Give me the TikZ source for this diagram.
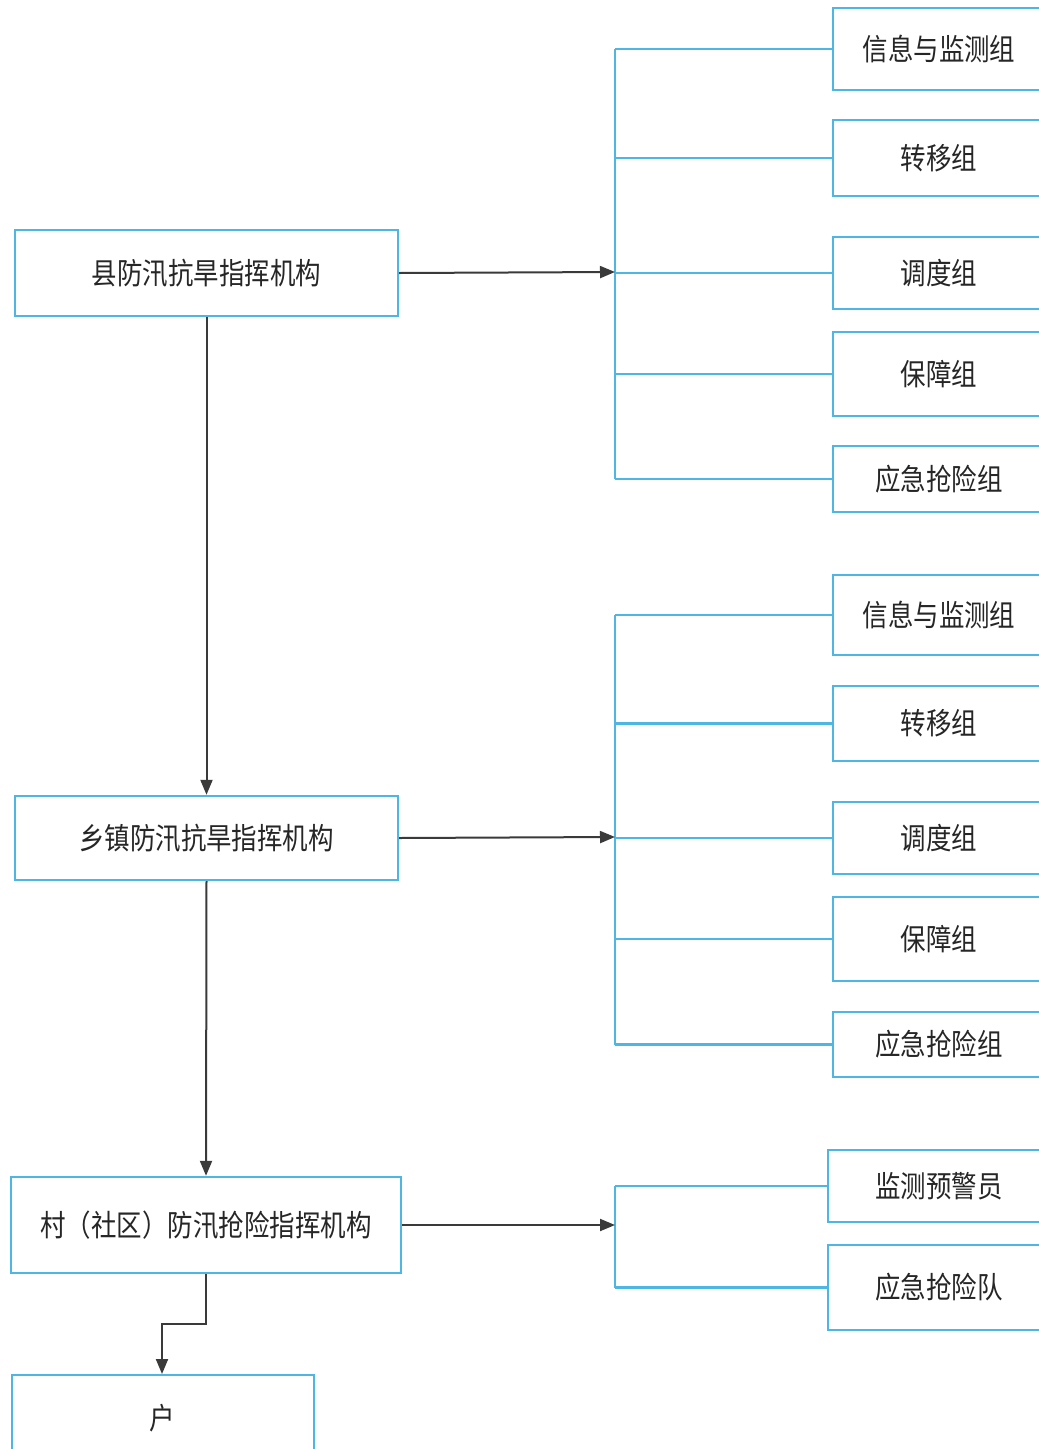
\documentclass[tikz,border=0pt]{standalone}
\usepackage{fontspec}
\usepackage{graphicx}
\setmainfont{Noto Sans CJK SC}
\usetikzlibrary{arrows.meta}
\definecolor{boxblue}{HTML}{4DB6E2}
\definecolor{arrowgray}{HTML}{3A3A3A}
\definecolor{txt}{HTML}{262626}
\newcommand{\tallt}[1]{\scalebox{0.98}[1.15]{#1}}
\begin{document}
\begin{tikzpicture}[x=1pt,y=-1pt,
  box/.style={draw=boxblue,line width=2.4pt,fill=white,inner sep=0pt,text=txt,font=\fontsize{26}{30}\selectfont},
  link/.style={draw=boxblue,line width=2.2pt},
  flow/.style={draw=arrowgray,line width=2pt,-{Triangle[length=15pt,width=12pt]}},
  plain/.style={draw=arrowgray,line width=2pt}]
\clip (0,0) rectangle (1039,1449);
\fill[white] (0,0) rectangle (1039,1449);
% left column
\node[box,minimum width=383pt,minimum height=86pt] (L1) at (206.5,273) {\tallt{县防汛抗旱指挥机构}};
\node[box,minimum width=383pt,minimum height=84pt] (L2) at (206.5,838) {\tallt{乡镇防汛抗旱指挥机构}};
\node[box,minimum width=390pt,minimum height=96pt] (L3) at (206,1225) {\tallt{村（社区）防汛抢险指挥机构}};
\node[box,minimum width=302pt,minimum height=90pt,anchor=north west] (H) at (11,1374) {};
\node[text=txt,font=\fontsize{26}{30}\selectfont] (Ht) at (162,1418) {\tallt{户}};
% right group 1
\node[box,minimum width=212pt,minimum height=82pt] (A1) at (939,49) {\tallt{信息与监测组}};
\node[box,minimum width=212pt,minimum height=76pt] (A2) at (939,158) {\tallt{转移组}};
\node[box,minimum width=212pt,minimum height=72pt] (A3) at (939,273) {\tallt{调度组}};
\node[box,minimum width=212pt,minimum height=84pt] (A4) at (939,374) {\tallt{保障组}};
\node[box,minimum width=212pt,minimum height=66pt] (A5) at (939,479) {\tallt{应急抢险组}};
% right group 2
\node[box,minimum width=212pt,minimum height=80pt] (B1) at (939,615) {\tallt{信息与监测组}};
\node[box,minimum width=212pt,minimum height=75pt] (B2) at (939,723.5) {\tallt{转移组}};
\node[box,minimum width=212pt,minimum height=72pt] (B3) at (939,838) {\tallt{调度组}};
\node[box,minimum width=212pt,minimum height=84pt] (B4) at (939,939) {\tallt{保障组}};
\node[box,minimum width=212pt,minimum height=65pt] (B5) at (939,1044.5) {\tallt{应急抢险组}};
% right group 3
\node[box,minimum width=222pt,minimum height=72pt] (C1) at (939,1186) {\tallt{监测预警员}};
\node[box,minimum width=222pt,minimum height=85pt] (C2) at (939,1287.5) {\tallt{应急抢险队}};
% bracket junction points
\coordinate (J1) at (615,272);
\coordinate (J2) at (615,837);
\coordinate (J3) at (615,1225);
% brackets group 1
\draw[link] (A1.west -| J1) -- (A5.west -| J1);
\foreach \n in {A1,A2,A3,A4,A5} \draw[link] (\n.west -| J1) -- (\n.west);
% brackets group 2
\draw[link] (B1.west -| J2) -- (B5.west -| J2);
\foreach \n in {B1,B2,B3,B4,B5} \draw[link] (\n.west -| J2) -- (\n.west);
% brackets group 3
\draw[link] (C1.west -| J3) -- (C2.west -| J3);
\foreach \n in {C1,C2} \draw[link] (\n.west -| J3) -- (\n.west);
% horizontal arrows
\draw[flow] (L1.east) -- (J1);
\draw[flow] (L2.east) -- (J2);
\draw[flow] (L3.east) -- (J3);
% vertical arrows
\draw[flow] (L1.south) -- (L2.north);
\draw[flow] (L2.south) -- (L3.north);
\draw[flow] (L3.south) -- ++(0,50) -| (H.north -| Ht);
\end{tikzpicture}
\end{document}
